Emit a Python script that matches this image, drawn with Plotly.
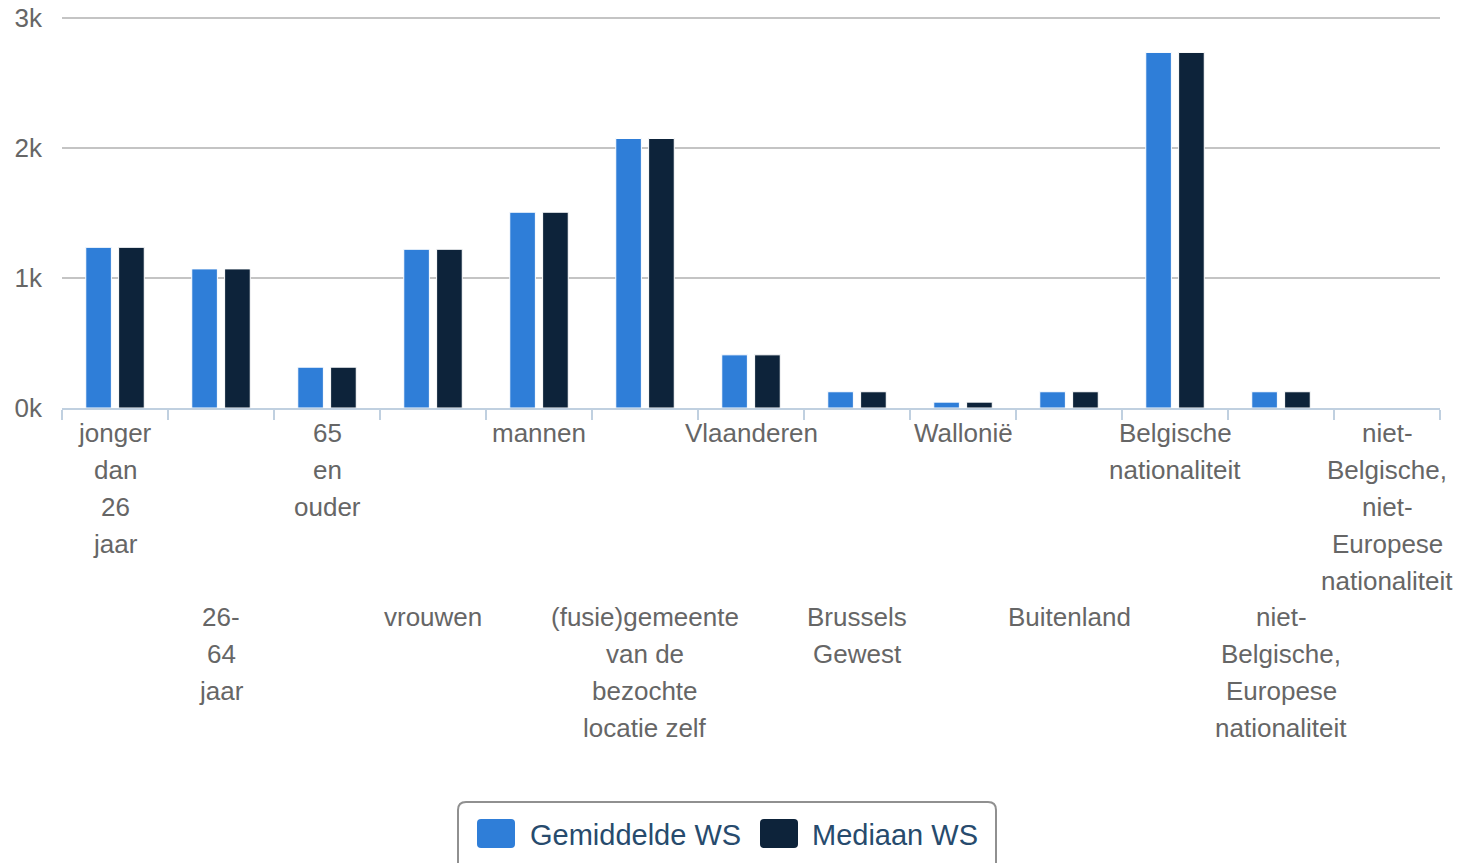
import plotly.graph_objects as go

categories = [
    "jonger dan 26 jaar", "26-64 jaar", "65 en ouder", "vrouwen", "mannen",
    "(fusie)gemeente van de bezochte locatie zelf", "Vlaanderen", "Brussels Gewest",
    "Wallonië", "Buitenland", "Belgische nationaliteit",
    "niet-Belgische, Europese nationaliteit", "niet-Belgische, niet-Europese nationaliteit",
]
# wrapped label lines as displayed
label_lines = [
    ["jonger", "dan", "26", "jaar"],
    ["26-", "64", "jaar"],
    ["65", "en", "ouder"],
    ["vrouwen"],
    ["mannen"],
    ["(fusie)gemeente", "van de", "bezochte", "locatie zelf"],
    ["Vlaanderen"],
    ["Brussels", "Gewest"],
    ["Wallonië"],
    ["Buitenland"],
    ["Belgische", "nationaliteit"],
    ["niet-", "Belgische,", "Europese", "nationaliteit"],
    ["niet-", "Belgische,", "niet-", "Europese", "nationaliteit"],
]
gemiddelde_ws = [1236, 1070, 314, 1221, 1506, 2073, 409, 125, 45, 125, 2735, 125, 0]
mediaan_ws = [1236, 1070, 314, 1221, 1506, 2073, 409, 125, 45, 125, 2735, 125, 0]
y_tickvals = [0, 1000, 2000, 3000]
y_ticktext = ["0k", "1k", "2k", "3k"]

series_names = ["Gemiddelde WS", "Mediaan WS"]
colors = ["#2f7ed8", "#0d233a"]

W, H = 1459, 863
ML, MR, MT, MB = 62, 19, 12, 455
PW, PH = W - ML - MR, H - MT - MB
AXIS_Y = H - MB            # pixel row of the zero line (408)
TOP_Y = 18                 # pixel row where 3k sits
Y_MAX = y_tickvals[-1] * PH / (AXIS_Y - TOP_Y)
FONT = "Liberation Sans, Arial, Helvetica, sans-serif"


def px_x(px):
    return (px - ML) / PW


def px_y(py):
    return (H - MB - py) / PH


fig = go.Figure()
for name, vals, col in zip(series_names, [gemiddelde_ws, mediaan_ws], colors):
    fig.add_trace(go.Bar(
        x=categories, y=vals, name=name, showlegend=False,
        marker=dict(color=col, line=dict(color="#ffffff", width=1)),
    ))

annotations = []
for cat, lines, i in zip(categories, label_lines, range(len(categories))):
    base = 25 if i % 2 == 0 else 209
    for j, ln in enumerate(lines):
        annotations.append(dict(
            x=cat, xref="x", y=0, yref="paper", yanchor="middle", xanchor="center",
            yshift=-(base + 37 * j), text=ln, showarrow=False,
            font=dict(family=FONT, size=26, color="#666666"),
        ))


def rounded_rect(x0, y0, x1, y1, r):
    def P(x, y):
        return f"{px_x(x)},{px_y(y)}"
    return (f"M{P(x0 + r, y0)} L{P(x1 - r, y0)} Q{P(x1, y0)} {P(x1, y0 + r)} "
            f"L{P(x1, y1 - r)} Q{P(x1, y1)} {P(x1 - r, y1)} "
            f"L{P(x0 + r, y1)} Q{P(x0, y1)} {P(x0, y1 - r)} "
            f"L{P(x0, y0 + r)} Q{P(x0, y0)} {P(x0 + r, y0)} Z")


shapes = [
    dict(type="path", xref="paper", yref="paper", path=rounded_rect(458, 802, 996, 880, 8),
         line=dict(color="#909090", width=2), fillcolor="rgba(0,0,0,0)", layer="above"),
]
legend_items = [(477, 528), (760, 810)]
for (sx, tx), name, col in zip(legend_items, series_names, colors):
    shapes.append(dict(type="path", xref="paper", yref="paper",
                       path=rounded_rect(sx, 819, sx + 38, 848, 4),
                       line=dict(color=col, width=0), fillcolor=col, layer="above"))
    annotations.append(dict(
        x=px_x(tx), y=px_y(835), xref="paper", yref="paper", xanchor="left", yanchor="middle",
        text=name, showarrow=False, font=dict(family=FONT, size=29, color="#274b6d"),
    ))

fig.update_layout(
    width=W, height=H, autosize=False,
    margin=dict(l=ML, r=MR, t=MT, b=MB, pad=0, autoexpand=False),
    paper_bgcolor="#ffffff", plot_bgcolor="#ffffff",
    barmode="group", bargap=0.38, bargroupgap=0.22,
    font=dict(family=FONT),
    showlegend=False,
    annotations=annotations,
    shapes=shapes,
    xaxis=dict(
        type="category", showgrid=False, zeroline=False, automargin=False,
        range=[-0.5, len(categories) - 0.5],
        showline=True, linecolor="#C0D0E0", linewidth=2,
        ticks="outside", tickson="boundaries", ticklen=10, tickwidth=2, tickcolor="#C0D0E0",
        showticklabels=False, fixedrange=True,
    ),
    yaxis=dict(
        range=[0, Y_MAX], tickvals=y_tickvals, ticktext=y_ticktext, automargin=False,
        showgrid=True, gridcolor="#C4C4C4", gridwidth=2, zeroline=False,
        showline=False, ticks="", ticklabelstandoff=19,
        tickfont=dict(family=FONT, size=26, color="#666666"), fixedrange=True,
    ),
)

fig.write_html(
    "out.html",
    config={"displayModeBar": False},
    post_script="document.body.style.margin='0';document.body.style.overflow='hidden';",
)
